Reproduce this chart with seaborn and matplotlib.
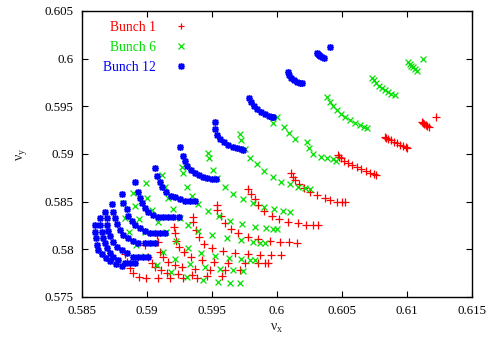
import matplotlib
matplotlib.use("Agg")
import matplotlib.pyplot as plt
from matplotlib.path import Path
from matplotlib.lines import Line2D
import seaborn as sns
import pandas as pd

# ---------------- data (tune footprints) ----------------
bunch_labels = ["Bunch 1", "Bunch 6", "Bunch 12"]

b1_x = [0.61223,
        0.61115, 0.61123, 0.61131, 0.61146, 0.61154, 0.61169,
        0.60831, 0.60838, 0.60854, 0.60877, 0.60900, 0.60923, 0.60946, 0.60969, 0.60992, 0.61000,
        0.60469, 0.60477, 0.60492, 0.60515, 0.60546, 0.60577, 0.60615, 0.60646, 0.60685, 0.60715, 0.60746, 0.60762,
        0.60108, 0.60123, 0.60138, 0.60169, 0.60208, 0.60254, 0.60308, 0.60369, 0.60408, 0.60462, 0.60500, 0.60523,
        0.59777, 0.59800, 0.59831, 0.59854, 0.59900, 0.59962, 0.60015, 0.60085, 0.60162, 0.60223, 0.60277, 0.60315,
        0.59538, 0.59538, 0.59569, 0.59600, 0.59646, 0.59700, 0.59777, 0.59854, 0.59946, 0.60023, 0.60092, 0.60154,
        0.59354, 0.59354, 0.59377, 0.59400, 0.59438, 0.59500, 0.59585, 0.59677, 0.59777, 0.59869, 0.59954, 0.60031,
        0.59208, 0.59215, 0.59223, 0.59246, 0.59285, 0.59338, 0.59423, 0.59515, 0.59623, 0.59754, 0.59854, 0.59908, 0.59931,
        0.59077, 0.59085, 0.59100, 0.59123, 0.59162, 0.59215, 0.59269, 0.59369, 0.59485, 0.59600, 0.59715,
        0.58985, 0.59008, 0.59038, 0.59062, 0.59108, 0.59154, 0.59238, 0.59346, 0.59462, 0.59577,
        0.58831, 0.58846, 0.58869, 0.58892, 0.58938, 0.58992, 0.59085, 0.59177, 0.59277, 0.59385]
b1_y = [0.59388,
        0.59336, 0.59325, 0.59315, 0.59304, 0.59294, 0.59283,
        0.59178, 0.59168, 0.59157, 0.59147, 0.59126, 0.59115, 0.59094, 0.59084, 0.59073, 0.59063,
        0.58990, 0.58969, 0.58958, 0.58927, 0.58906, 0.58885, 0.58864, 0.58843, 0.58822, 0.58801, 0.58790, 0.58780,
        0.58801, 0.58759, 0.58727, 0.58685, 0.58643, 0.58601, 0.58570, 0.58539, 0.58518, 0.58497, 0.58497, 0.58497,
        0.58633, 0.58580, 0.58528, 0.58465, 0.58402, 0.58350, 0.58318, 0.58287, 0.58276, 0.58255, 0.58255, 0.58255,
        0.58465, 0.58413, 0.58350, 0.58276, 0.58213, 0.58171, 0.58129, 0.58109, 0.58088, 0.58077, 0.58077, 0.58067,
        0.58339, 0.58287, 0.58203, 0.58129, 0.58056, 0.58014, 0.57983, 0.57962, 0.57951, 0.57941, 0.57941, 0.57941,
        0.58234, 0.58171, 0.58088, 0.58025, 0.57972, 0.57920, 0.57888, 0.57867, 0.57857, 0.57857, 0.57857, 0.57857, 0.57857,
        0.58150, 0.58077, 0.57972, 0.57920, 0.57867, 0.57836, 0.57815, 0.57794, 0.57783, 0.57783, 0.57783,
        0.58046, 0.57920, 0.57857, 0.57815, 0.57783, 0.57752, 0.57741, 0.57731, 0.57720, 0.57720,
        0.57951, 0.57867, 0.57804, 0.57752, 0.57710, 0.57699, 0.57699, 0.57699, 0.57699, 0.57699]

b6_x = [0.61123,
        0.61008, 0.61023, 0.61031, 0.61046, 0.61062, 0.61077,
        0.60731, 0.60746, 0.60762, 0.60785, 0.60808, 0.60831, 0.60854, 0.60877, 0.60908,
        0.60385, 0.60408, 0.60431, 0.60462, 0.60492, 0.60523, 0.60562, 0.60600, 0.60638, 0.60669, 0.60692,
        0.60000, 0.59969, 0.60054, 0.60092, 0.60138, 0.60231, 0.60246, 0.60277, 0.60338, 0.60385, 0.60431, 0.60454,
        0.59715, 0.59723, 0.59754, 0.59792, 0.59846, 0.59900, 0.59969, 0.60031, 0.60100, 0.60162, 0.60215, 0.60254,
        0.59469, 0.59477, 0.59508, 0.59538, 0.59600, 0.59662, 0.59738, 0.59815, 0.59900, 0.59977, 0.60046, 0.60100,
        0.59269, 0.59277, 0.59308, 0.59346, 0.59392, 0.59469, 0.59554, 0.59638, 0.59731, 0.59831, 0.59915, 0.59969, 0.60000,
        0.59115, 0.59138, 0.59162, 0.59200, 0.59254, 0.59315, 0.59392, 0.59500, 0.59615, 0.59723, 0.59815, 0.59869, 0.59908,
        0.58992, 0.59000, 0.59038, 0.59085, 0.59146, 0.59223, 0.59315, 0.59415, 0.59523, 0.59631, 0.59723, 0.59792, 0.59831,
        0.58892, 0.58908, 0.58938, 0.58985, 0.59046, 0.59123, 0.59215, 0.59331, 0.59446, 0.59562, 0.59662, 0.59738,
        0.58815, 0.58831, 0.58861, 0.58915, 0.58985, 0.59077, 0.59185, 0.59308, 0.59431, 0.59546, 0.59638, 0.59715]
b6_y = [0.59997,
        0.59965, 0.59944, 0.59923, 0.59913, 0.59892, 0.59871,
        0.59797, 0.59776, 0.59745, 0.59713, 0.59692, 0.59671, 0.59650, 0.59629, 0.59619,
        0.59598, 0.59545, 0.59504, 0.59462, 0.59420, 0.59388, 0.59357, 0.59325, 0.59304, 0.59283, 0.59273,
        0.59388, 0.59325, 0.59283, 0.59220, 0.59157, 0.59126, 0.59063, 0.59000, 0.58969, 0.58958, 0.58948, 0.58927,
        0.59210, 0.59147, 0.59052, 0.58958, 0.58895, 0.58822, 0.58759, 0.58706, 0.58685, 0.58654, 0.58643, 0.58633,
        0.59011, 0.58958, 0.58832, 0.58748, 0.58654, 0.58580, 0.58528, 0.58486, 0.58444, 0.58423, 0.58402, 0.58392,
        0.58864, 0.58801, 0.58654, 0.58560, 0.58476, 0.58402, 0.58350, 0.58297, 0.58266, 0.58234, 0.58224, 0.58213, 0.58213,
        0.58780, 0.58654, 0.58539, 0.58423, 0.58329, 0.58255, 0.58192, 0.58150, 0.58119, 0.58098, 0.58077, 0.58067, 0.58067,
        0.58696, 0.58539, 0.58413, 0.58287, 0.58182, 0.58088, 0.58014, 0.57962, 0.57930, 0.57909, 0.57899, 0.57888, 0.57888,
        0.58591, 0.58455, 0.58318, 0.58182, 0.58067, 0.57972, 0.57899, 0.57846, 0.57815, 0.57794, 0.57783, 0.57773,
        0.58486, 0.58329, 0.58182, 0.58046, 0.57930, 0.57836, 0.57762, 0.57710, 0.57678, 0.57657, 0.57647, 0.57647]

b12_x = [0.60408,
         0.60308, 0.60315, 0.60323, 0.60331, 0.60346, 0.60362,
         0.60085, 0.60092, 0.60108, 0.60131, 0.60154, 0.60177, 0.60192,
         0.59785, 0.59800, 0.59823, 0.59846, 0.59877, 0.59908, 0.59938, 0.59962, 0.59969,
         0.59523, 0.59523, 0.59538, 0.59562, 0.59592, 0.59623, 0.59662, 0.59692, 0.59723, 0.59738,
         0.59254, 0.59277, 0.59292, 0.59308, 0.59338, 0.59369, 0.59400, 0.59431, 0.59462, 0.59500, 0.59531,
         0.59062, 0.59077, 0.59100, 0.59115, 0.59146, 0.59185, 0.59215, 0.59254, 0.59292, 0.59331, 0.59369,
         0.58908, 0.58931, 0.58946, 0.58961, 0.58985, 0.59008, 0.59046, 0.59085, 0.59123, 0.59162, 0.59200, 0.59246,
         0.58808, 0.58815, 0.58846, 0.58854, 0.58884, 0.58908, 0.58946, 0.58985, 0.59023, 0.59062, 0.59100, 0.59138,
         0.58731, 0.58738, 0.58754, 0.58769, 0.58792, 0.58815, 0.58854, 0.58892, 0.58931, 0.58985, 0.59023, 0.59062,
         0.58677, 0.58692, 0.58692, 0.58700, 0.58715, 0.58738, 0.58769, 0.58808, 0.58846, 0.58892, 0.58931, 0.58969, 0.59008,
         0.58638, 0.58638, 0.58654, 0.58661, 0.58677, 0.58692, 0.58715, 0.58738, 0.58777, 0.58831, 0.58869, 0.58908,
         0.58600, 0.58600, 0.58608, 0.58615, 0.58623, 0.58654, 0.58684, 0.58715, 0.58761, 0.58808]
b12_y = [0.60122,
         0.60060, 0.60049, 0.60039, 0.60028, 0.60018, 0.60007,
         0.59860, 0.59829, 0.59797, 0.59776, 0.59755, 0.59745, 0.59745,
         0.59587, 0.59545, 0.59504, 0.59472, 0.59441, 0.59420, 0.59399, 0.59388, 0.59388,
         0.59336, 0.59262, 0.59199, 0.59157, 0.59126, 0.59094, 0.59073, 0.59063, 0.59052, 0.59042,
         0.59073, 0.58979, 0.58927, 0.58874, 0.58832, 0.58801, 0.58780, 0.58759, 0.58748, 0.58738, 0.58738,
         0.58853, 0.58769, 0.58706, 0.58654, 0.58601, 0.58560, 0.58549, 0.58528, 0.58507, 0.58507, 0.58507,
         0.58706, 0.58601, 0.58539, 0.58486, 0.58434, 0.58392, 0.58360, 0.58339, 0.58339, 0.58339, 0.58339, 0.58339,
         0.58580, 0.58486, 0.58423, 0.58350, 0.58297, 0.58255, 0.58224, 0.58192, 0.58171, 0.58171, 0.58171, 0.58171,
         0.58476, 0.58392, 0.58329, 0.58266, 0.58203, 0.58150, 0.58119, 0.58088, 0.58067, 0.58067, 0.58067, 0.58067,
         0.58392, 0.58329, 0.58255, 0.58192, 0.58140, 0.58077, 0.58025, 0.57993, 0.57962, 0.57920, 0.57920, 0.57920, 0.57920,
         0.58329, 0.58255, 0.58182, 0.58119, 0.58067, 0.58014, 0.57962, 0.57920, 0.57888, 0.57857, 0.57857, 0.57857,
         0.58255, 0.58182, 0.58119, 0.58046, 0.57993, 0.57951, 0.57909, 0.57878, 0.57846, 0.57825]

x_ticks = [0.585, 0.59, 0.595, 0.6, 0.605, 0.61, 0.615]
x_tick_labels = ["0.585", "0.59", "0.595", "0.6", "0.605", "0.61", "0.615"]
y_ticks = [0.575, 0.58, 0.585, 0.59, 0.595, 0.6, 0.605]
y_tick_labels = ["0.575", "0.58", "0.585", "0.59", "0.595", "0.6", "0.605"]

# ---------------- style ----------------
sns.set_style("ticks")
plt.rcParams["font.family"] = ["Liberation Serif", "DejaVu Serif"]
plt.rcParams["mathtext.fontset"] = "custom"
plt.rcParams["mathtext.rm"] = "Liberation Serif"
plt.rcParams["mathtext.it"] = "Liberation Serif:italic"

colors = ["#ff0000", "#00e000", "#0000ff"]

star_path = Path(
    [(-1, 0), (1, 0), (0, -1), (0, 1), (-0.75, -0.75), (0.75, 0.75), (-0.75, 0.75), (0.75, -0.75)],
    [Path.MOVETO, Path.LINETO] * 4,
)

fig = plt.figure(figsize=(4.93, 3.39), dpi=100)
ax = fig.add_axes([82 / 493, 42 / 339, 390 / 493, 286 / 339])

df1 = pd.DataFrame({"x": b1_x, "y": b1_y})
df6 = pd.DataFrame({"x": b6_x, "y": b6_y})
df12 = pd.DataFrame({"x": b12_x, "y": b12_y})

sns.scatterplot(data=df1, x="x", y="y", marker="+", color=colors[0], s=26,
                linewidth=0.9, ax=ax, legend=False)
sns.scatterplot(data=df6, x="x", y="y", marker="x", color=colors[1], s=18,
                linewidth=0.9, ax=ax, legend=False)
sns.scatterplot(data=df12, x="x", y="y", marker=star_path, color=colors[2],
                edgecolor=colors[2], s=24, linewidth=1.4, ax=ax, legend=False)

ax.set_xlim(0.585, 0.615)
ax.set_ylim(0.575, 0.605)
ax.set_xticks(x_ticks)
ax.set_xticklabels(x_tick_labels)
ax.set_yticks(y_ticks)
ax.set_yticklabels(y_tick_labels)
ax.tick_params(direction="in", length=4, width=0.8, top=True, right=True,
               labelsize=9.3, pad=6, colors="black")
for sp in ax.spines.values():
    sp.set_visible(True)
    sp.set_linewidth(1.0)
    sp.set_color("black")

ax.set_xlabel(r"$\mathrm{\nu}_\mathrm{x}$", fontsize=10, labelpad=3)
ax.set_ylabel(r"$\mathrm{\nu}_\mathrm{y}$", fontsize=10, labelpad=11)

handles = [
    Line2D([], [], linestyle="none", marker="+", color=colors[0], markersize=4.8, markeredgewidth=0.9),
    Line2D([], [], linestyle="none", marker="x", color=colors[1], markersize=4.0, markeredgewidth=0.9),
    Line2D([], [], linestyle="none", marker=star_path, color=colors[2], markersize=4.8, markeredgewidth=1.4),
]
ax.legend(handles, bunch_labels, loc="upper left", bbox_to_anchor=(0.04, 0.985),
          markerfirst=False, frameon=False, fontsize=9.8, labelcolor=colors,
          handlelength=1.5, handletextpad=1.1, labelspacing=0.52, borderaxespad=0)

fig.savefig("out.png", dpi=100)
